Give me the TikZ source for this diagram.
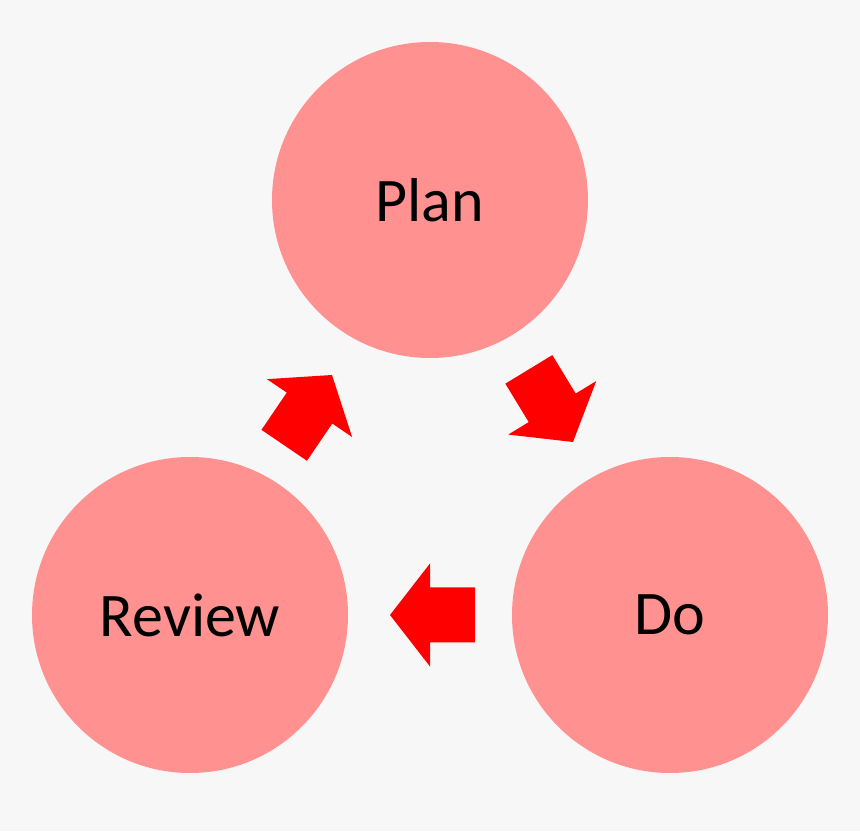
\documentclass[tikz,border=0pt]{standalone}
\usepackage{fontspec}
\setmainfont{Carlito}
\begin{document}
\begin{tikzpicture}[x=1pt,y=1pt,
  phase/.style={circle,fill=red!43!white,minimum size=316pt,inner sep=0pt,font=\fontsize{62}{70}\selectfont},
  blk/.pic={\fill[red] (0,0)--(-40,51.5)--(-40,27.5)--(-85,27.5)--(-85,-27.5)--(-40,-27.5)--(-40,-51.5)--cycle;}]
\fill[black!3] (0,0) rectangle (860,831);
\useasboundingbox (0,0) rectangle (860,831);
\node[phase] (plan) at (430,631) {Plan};
\node[phase] (do) at (670,216) {Do};
\node[phase] (review) at (190,216) {Review};
\pic[rotate=-58.7] (a1) at (573,389) {blk};
\pic[rotate=180] (a2) at (390,216) {blk};
\pic[rotate=55.8] (a3) at (332,456) {blk};
\end{tikzpicture}
\end{document}
